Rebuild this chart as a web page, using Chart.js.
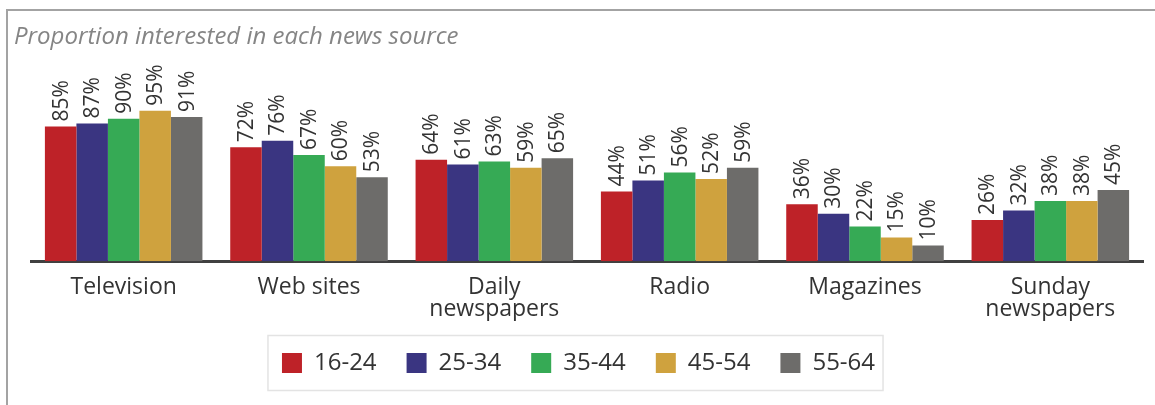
<!DOCTYPE html>
<html>
<head>
<meta charset="utf-8">
<script src="https://cdn.jsdelivr.net/npm/chart.js@4.4.1/dist/chart.umd.min.js"></script>
<style>
  html, body { margin: 0; padding: 0; background: #ffffff; }
  #wrap { width: 1155px; height: 405px; position: relative; }
</style>
</head>
<body>
<div id="wrap"><canvas id="c" width="1155" height="405"></canvas></div>
<script>
// News sources and the share of each age group interested in them (%)
const categories = ['Television', 'Web sites', ['Daily', 'newspapers'], 'Radio', 'Magazines', ['Sunday', 'newspapers']];
const ageGroups = ['16-24', '25-34', '35-44', '45-54', '55-64'];
const age16to24 = [85, 72, 64, 44, 36, 26];
const age25to34 = [87, 76, 61, 51, 30, 32];
const age35to44 = [90, 67, 63, 56, 22, 38];
const age45to54 = [95, 60, 59, 52, 15, 38];
const age55to64 = [91, 53, 65, 59, 10, 45];
const titleText = 'Proportion interested in each news source';

const seriesValues = [age16to24, age25to34, age35to44, age45to54, age55to64];
const seriesColors = ['#be2228', '#3a3581', '#36aa55', '#cfa23e', '#6d6c6a'];

const FONT = '"Open Sans", Lato, sans-serif';

// Outer frame: grey rule along the top and left edges
const framePlugin = {
  id: 'frame',
  beforeDraw(chart) {
    const ctx = chart.ctx;
    ctx.save();
    ctx.strokeStyle = '#a3a3a3';
    ctx.lineWidth = 2;
    ctx.beginPath();
    ctx.moveTo(7, chart.height);
    ctx.lineTo(7, 10);
    ctx.lineTo(chart.width, 10);
    ctx.stroke();
    ctx.restore();
  }
};

// Rotated percentage labels above each bar
const valueLabelPlugin = {
  id: 'valueLabels',
  afterDatasetsDraw(chart) {
    const ctx = chart.ctx;
    ctx.save();
    ctx.fillStyle = '#333333';
    ctx.font = '21px ' + FONT;
    ctx.textAlign = 'left';
    ctx.textBaseline = 'middle';
    chart.data.datasets.forEach((ds, di) => {
      const meta = chart.getDatasetMeta(di);
      meta.data.forEach((bar, i) => {
        ctx.save();
        ctx.translate(bar.x, bar.y - 5);
        ctx.rotate(-Math.PI / 2);
        ctx.fillText(ds.data[i] + '%', 0, 1);
        ctx.restore();
      });
    });
    ctx.restore();
  }
};

// Thin box drawn round the legend entries
const legendBoxPlugin = {
  id: 'legendBox',
  afterDraw(chart) {
    const lg = chart.legend;
    if (!lg || !lg.legendHitBoxes || !lg.legendHitBoxes.length) return;
    const boxes = lg.legendHitBoxes;
    let l = Infinity, r = -Infinity, cy = 0;
    boxes.forEach(b => {
      l = Math.min(l, b.left);
      r = Math.max(r, b.left + b.width);
      cy += b.top + b.height / 2;
    });
    cy /= boxes.length;
    const ctx = chart.ctx;
    ctx.save();
    ctx.strokeStyle = '#e3e3e3';
    ctx.lineWidth = 1.5;
    ctx.strokeRect(l - 14, cy - 27.5, (r - l) + 22, 55);
    ctx.restore();
  }
};

new Chart(document.getElementById('c'), {
  type: 'bar',
  data: {
    labels: categories,
    datasets: ageGroups.map((g, i) => ({
      label: g,
      data: seriesValues[i],
      backgroundColor: seriesColors[i],
      borderWidth: 0,
      barPercentage: 1.0,
      categoryPercentage: 0.85
    }))
  },
  options: {
    responsive: false,
    animation: false,
    devicePixelRatio: 1,
    layout: { padding: { left: 14, right: 12, top: 0, bottom: 20 } },
    plugins: {
      title: {
        display: true,
        text: titleText,
        align: 'start',
        color: '#858585',
        font: { family: FONT, size: 24, style: 'italic', weight: 'normal', lineHeight: 1.2 },
        padding: { top: 23, bottom: 51 }
      },
      legend: {
        display: true,
        position: 'bottom',
        labels: {
          boxWidth: 20,
          boxHeight: 20,
          padding: 30,
          color: '#333333',
          font: { family: FONT, size: 24 }
        }
      },
      tooltip: { enabled: false }
    },
    scales: {
      x: {
        grid: { display: false },
        border: { display: true, color: '#404040', width: 3 },
        ticks: {
          color: '#333333',
          padding: 7,
          maxRotation: 0,
          autoSkip: false,
          font: { family: FONT, size: 23, lineHeight: 0.95 }
        },
        afterFit(scale) { scale.height -= 6; }
      },
      y: {
        min: 0,
        max: 100,
        grid: { display: false },
        border: { display: false },
        ticks: { display: false },
        afterFit(scale) { scale.width = 17; }
      }
    }
  },
  plugins: [framePlugin, valueLabelPlugin, legendBoxPlugin]
});
</script>
</body>
</html>
